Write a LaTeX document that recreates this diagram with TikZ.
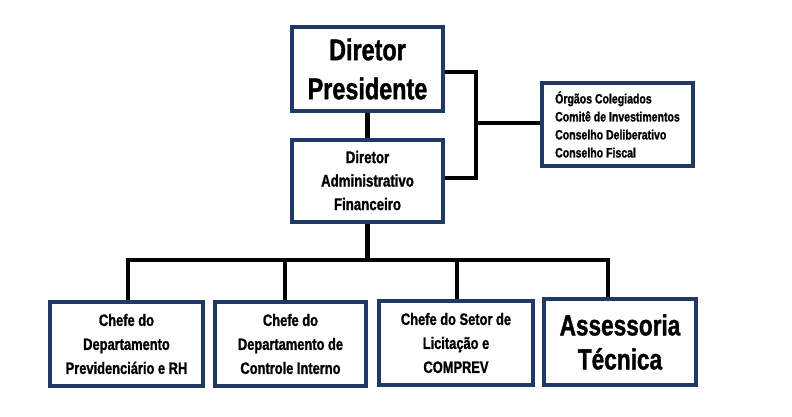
\documentclass[tikz,border=0pt]{standalone}
\usepackage{fontspec}
\setmainfont[FakeStretch=0.78,BoldFeatures={FakeBold=1.2}]{Liberation Sans}
\definecolor{navy}{HTML}{1F3864}
\begin{document}
\begin{tikzpicture}[x=1pt,y=-1pt,
  box/.style={draw=navy,line width=4pt,fill=white,align=center,inner sep=0pt,font=\bfseries},
  conn/.style={line width=4.5pt,black,line join=miter}]
\useasboundingbox (0,0) rectangle (792,416);
% boxes
\node[box,minimum width=151pt,minimum height=84pt,font=\bfseries\fontsize{30}{39}\selectfont] (dp) at (367.5,69) {Diretor\\Presidente};
\node[box,minimum width=151pt,minimum height=82pt,font=\bfseries\fontsize{17}{23.5}\selectfont] (daf) at (367.5,180.5) {Diretor\\Administrativo\\Financeiro};
\node[box,minimum width=151pt,minimum height=83pt,font=\bfseries\fontsize{13.5}{18}\selectfont,align=left] (org) at (617.5,124.5) {Órgãos Colegiados\\Comitê de Investimentos\\Conselho Deliberativo\\Conselho Fiscal};
\node[box,minimum width=153pt,minimum height=84pt,font=\bfseries\fontsize{16.5}{24}\selectfont] (b1) at (126.5,344) {Chefe do\\Departamento\\Previdenciário e RH};
\node[box,minimum width=151pt,minimum height=84pt,font=\bfseries\fontsize{16.5}{24}\selectfont] (b2) at (290.5,344) {Chefe do\\Departamento de\\Controle Interno};
\node[box,minimum width=154pt,minimum height=84pt,font=\bfseries\fontsize{16.5}{24}\selectfont] (b3) at (456,343) {Chefe do Setor de\\Licitação e\\COMPREV};
\node[box,minimum width=152pt,minimum height=86pt,font=\bfseries\fontsize{29}{34}\selectfont] (b4) at (620,342) {Assessoria\\Técnica};
% coordinates
\coordinate (br) at (476,72);
\coordinate (bm) at (476,123);
\coordinate (bb) at (476,178);
\coordinate (bus) at (367.5,260);
\coordinate (j1) at (128,260);
\coordinate (j2) at (285,260);
\coordinate (j3) at (457,260);
\coordinate (j4) at (608,260);
% connectors
\draw[conn] (dp.south) -- (daf.north);
\draw[conn] (dp.east |- br) -- (br) -- (bb) -- (daf.east |- bb);
\draw[conn] (bm) -- (org.west |- bm);
\draw[conn] (daf.south) -- (bus);
\draw[conn] ([xshift=-2.25pt]j1) -- ([xshift=2.25pt]j4);
\draw[conn] (j1) -- (j1 |- b1.north);
\draw[conn] (j2) -- (j2 |- b2.north);
\draw[conn] (j3) -- (j3 |- b3.north);
\draw[conn] (j4) -- (j4 |- b4.north);
\end{tikzpicture}
\end{document}
